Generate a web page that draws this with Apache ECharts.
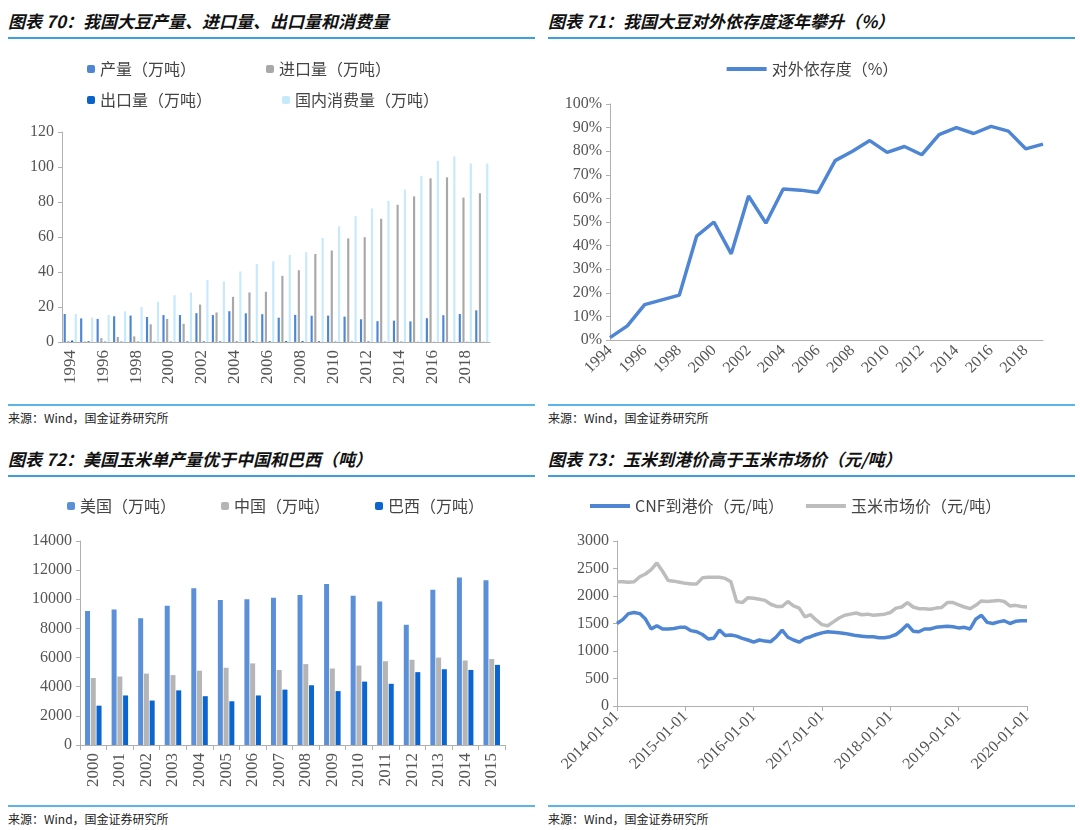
<!DOCTYPE html>
<html><head><meta charset="utf-8">
<script src="https://cdn.jsdelivr.net/npm/echarts@6/dist/echarts.min.js"></script>
<style>
body{margin:0;width:1080px;height:830px;background:#fff;position:relative;font-family:"Noto Sans CJK SC",sans-serif;overflow:hidden}
.t{position:absolute;font-size:17px;font-weight:bold;font-style:italic;color:#111;border-bottom:2px solid #3d9ee0;padding-bottom:4px;width:527px}
.s{position:absolute;font-size:12px;color:#222;border-top:2px solid #5bb5e8;padding-top:3px;width:527px}
.c{position:absolute}
</style></head><body>
<div class="t" style="left:8px;top:8px">图表 70：我国大豆产量、进口量、出口量和消费量</div>
<div class="t" style="left:548px;top:8px">图表 71：我国大豆对外依存度逐年攀升（%）</div>
<div class="t" style="left:8px;top:446px">图表 72：美国玉米单产量优于中国和巴西（吨）</div>
<div class="t" style="left:548px;top:446px">图表 73：玉米到港价高于玉米市场价（元/吨）</div>
<div class="s" style="left:8px;top:404px">来源：Wind，国金证券研究所</div>
<div class="s" style="left:548px;top:404px">来源：Wind，国金证券研究所</div>
<div class="s" style="left:8px;top:805px">来源：Wind，国金证券研究所</div>
<div class="s" style="left:548px;top:805px">来源：Wind，国金证券研究所</div>
<div id="c1" class="c" style="left:0;top:40px;width:540px;height:365px"></div>
<div id="c2" class="c" style="left:545px;top:40px;width:535px;height:365px"></div>
<div id="c3" class="c" style="left:0;top:480px;width:540px;height:325px"></div>
<div id="c4" class="c" style="left:545px;top:480px;width:535px;height:325px"></div>
<script>
var years = ['1994','1995','1996','1997','1998','1999','2000','2001','2002','2003','2004','2005','2006','2007','2008','2009','2010','2011','2012','2013','2014','2015','2016','2017','2018','2019'];
var production = [16,13.5,13.2,14.7,15.1,14.3,15.4,15.4,16.5,15.4,17.6,16.4,15.9,13.9,15.5,15.0,15.1,14.5,13.0,11.9,12.2,11.8,13.6,15.3,16.0,18.1];
var imports = [0.5,0.3,2.2,2.9,3.2,10.1,13.2,10.4,21.4,16.9,25.8,28.3,28.7,37.8,41,50.3,52.3,59.2,59.9,70.4,78.4,83.2,93.5,94.1,82.5,85];
var exports = [0.8,0.4,0.2,0.2,0.2,0.2,0.2,0.3,0.3,0.3,0.3,0.4,0.4,0.5,0.5,0.4,0.2,0.2,0.3,0.2,0.2,0.1,0.1,0.1,0.1,0.1];
var consumption = [16,14,15.5,17.5,20,23,26.7,28.3,35.5,34.6,40.3,44.6,46.1,49.7,51.4,59.4,66.1,71.9,76.3,80.6,87.1,95,103.5,106.1,102,102];
var dependence = [1,6,15,17,19,44,50,36.5,61,49.5,64,63.5,62.5,76,80,84.5,79.5,82,78.5,87,90,87.5,90.5,88.5,81,83];

var cornYears = ['2000','2001','2002','2003','2004','2005','2006','2007','2008','2009','2010','2011','2012','2013','2014','2015'];
var usa = [9200,9300,8700,9550,10750,9950,10000,10100,10300,11050,10250,9850,8250,10650,11500,11300];
var china = [4600,4700,4900,4800,5100,5300,5600,5150,5550,5250,5450,5750,5850,6000,5800,5900];
var brazil = [2700,3400,3050,3750,3350,3000,3400,3800,4100,3700,4350,4200,5000,5200,5150,5500];

var cnf = [1500,1570,1680,1700,1680,1580,1400,1460,1400,1400,1410,1430,
 1430,1370,1350,1300,1220,1230,1380,1280,1290,1270,1230,1200,
 1160,1200,1180,1170,1260,1380,1250,1200,1160,1230,1260,1300,
 1330,1350,1340,1330,1320,1300,1280,1270,1260,1260,1240,1240,
 1260,1300,1380,1480,1360,1350,1400,1400,1430,1440,1450,1440,
 1420,1430,1400,1580,1650,1520,1500,1530,1550,1500,1540,1550,1550];
var market = [2260,2260,2250,2260,2350,2400,2480,2600,2450,2280,2270,2250,
 2230,2220,2220,2330,2340,2340,2340,2320,2260,1900,1880,1970,
 1960,1940,1920,1850,1810,1810,1900,1820,1780,1620,1660,1560,
 1480,1460,1530,1600,1650,1670,1690,1660,1670,1650,1660,1670,
 1700,1780,1800,1880,1800,1770,1770,1760,1780,1790,1880,1880,
 1840,1800,1770,1830,1910,1900,1910,1920,1900,1820,1830,1810,1800];
var months = [];
for (var y = 2014; y <= 2020; y++) for (var m = 1; m <= 12; m++) {
  if (y == 2020 && m > 1) break;
  months.push(y + '-' + (m < 10 ? '0' + m : m) + '-01');
}

var serif = '"Liberation Serif","DejaVu Serif",serif';
var axisLine = {lineStyle: {color: '#b0b0b0'}};
var yLab = {fontFamily: serif, fontSize: 16, color: '#555', formatter: function (v) { return String(v); }};
var leg = {fontSize: 16, color: '#444', fontFamily: '"Noto Sans CJK SC",sans-serif'};

echarts.init(document.getElementById('c1')).setOption({
  animation: false,
  legend: [
    {left: 82, top: 16, itemWidth: 8, itemHeight: 8, itemGap: 70, textStyle: leg, data: ['产量（万吨）', '进口量（万吨）']},
    {left: 82, top: 47, itemWidth: 8, itemHeight: 8, itemGap: 70, textStyle: leg, data: ['出口量（万吨）', '国内消费量（万吨）']}
  ],
  grid: {left: 62, right: 50, top: 92, bottom: 63},
  xAxis: {type: 'category', data: years, axisLine: axisLine, axisTick: {show: false},
    axisLabel: {rotate: 90, interval: 1, fontFamily: serif, fontSize: 17, color: '#555'}},
  yAxis: {type: 'value', min: 0, max: 120, interval: 20, splitLine: {show: false},
    axisLine: {show: true, lineStyle: {color: '#b0b0b0'}}, axisTick: {show: true, length: 4, lineStyle: {color: '#b0b0b0'}}, axisLabel: yLab},
  series: [
    {name: '产量（万吨）', type: 'bar', data: production, itemStyle: {color: '#4e86d4'}, barGap: '70%', barCategoryGap: '20%'},
    {name: '进口量（万吨）', type: 'bar', data: imports, itemStyle: {color: '#a8a8a8'}},
    {name: '出口量（万吨）', type: 'bar', data: exports, itemStyle: {color: '#0a62c8'}},
    {name: '国内消费量（万吨）', type: 'bar', data: consumption, itemStyle: {color: '#c6e9fb'}}
  ]
});

echarts.init(document.getElementById('c2')).setOption({
  animation: false,
  legend: {left: 'center', top: 16, itemWidth: 40, itemHeight: 4, textStyle: leg,
    data: [{name: '对外依存度（%）', icon: 'rect'}]},
  grid: {left: 65, right: 37, top: 64, bottom: 65},
  xAxis: {type: 'category', data: years, boundaryGap: false, axisLine: axisLine, axisTick: {show: false},
    axisLabel: {rotate: 45, interval: 1, fontFamily: serif, fontSize: 16, color: '#555'}},
  yAxis: {type: 'value', min: 0, max: 100, interval: 10, splitLine: {show: false},
    axisLine: {show: true, lineStyle: {color: '#b0b0b0'}}, axisTick: {show: true, length: 4, lineStyle: {color: '#b0b0b0'}},
    axisLabel: {fontFamily: serif, fontSize: 16, color: '#555', formatter: '{value}%'}},
  series: [{name: '对外依存度（%）', type: 'line', data: dependence, showSymbol: false,
    lineStyle: {color: '#4f86d3', width: 3.5}, itemStyle: {color: '#4f86d3'}}]
});

echarts.init(document.getElementById('c3')).setOption({
  animation: false,
  legend: {left: 62, top: 13, itemWidth: 8, itemHeight: 8, itemGap: 45, textStyle: leg,
    data: ['美国（万吨）', '中国（万吨）', '巴西（万吨）']},
  grid: {left: 80, right: 35, top: 61, bottom: 60},
  xAxis: {type: 'category', data: cornYears, axisLine: axisLine, axisTick: {show: true, length: 5, lineStyle: {color: '#b0b0b0'}},
    axisLabel: {rotate: 90, interval: 0, fontFamily: serif, fontSize: 17, color: '#555'}},
  yAxis: {type: 'value', min: 0, max: 14000, interval: 2000, splitLine: {show: false},
    axisLine: {show: true, lineStyle: {color: '#b0b0b0'}}, axisTick: {show: true, length: 4, lineStyle: {color: '#b0b0b0'}}, axisLabel: yLab},
  series: [
    {name: '美国（万吨）', type: 'bar', data: usa, barWidth: 5, barGap: '15%', itemStyle: {color: '#5b90d9'}},
    {name: '中国（万吨）', type: 'bar', data: china, barWidth: 5, itemStyle: {color: '#b5b5b5'}},
    {name: '巴西（万吨）', type: 'bar', data: brazil, barWidth: 5, itemStyle: {color: '#0a65d0'}}
  ]
});

echarts.init(document.getElementById('c4')).setOption({
  animation: false,
  legend: {left: 40, top: 13, itemWidth: 40, itemHeight: 4, itemGap: 22, textStyle: leg,
    data: [{name: 'CNF到港价（元/吨）', icon: 'rect'}, {name: '玉米市场价（元/吨）', icon: 'rect'}]},
  grid: {left: 72, right: 53, top: 61, bottom: 99},
  xAxis: {type: 'category', data: months, boundaryGap: false, axisLine: axisLine,
    axisTick: {show: true, interval: 11, length: 5, lineStyle: {color: '#b0b0b0'}},
    axisLabel: {rotate: 45, interval: 11, fontFamily: serif, fontSize: 16, color: '#555'}},
  yAxis: {type: 'value', min: 0, max: 3000, interval: 500, splitLine: {show: false},
    axisLine: {show: true, lineStyle: {color: '#b0b0b0'}}, axisTick: {show: true, length: 4, lineStyle: {color: '#b0b0b0'}}, axisLabel: yLab},
  series: [
    {name: 'CNF到港价（元/吨）', type: 'line', data: cnf, showSymbol: false, lineStyle: {color: '#4f86d3', width: 3.5}, itemStyle: {color: '#4f86d3'}},
    {name: '玉米市场价（元/吨）', type: 'line', data: market, showSymbol: false, lineStyle: {color: '#bdbdbd', width: 3.5}, itemStyle: {color: '#bdbdbd'}}
  ]
});
</script>
</body></html>
